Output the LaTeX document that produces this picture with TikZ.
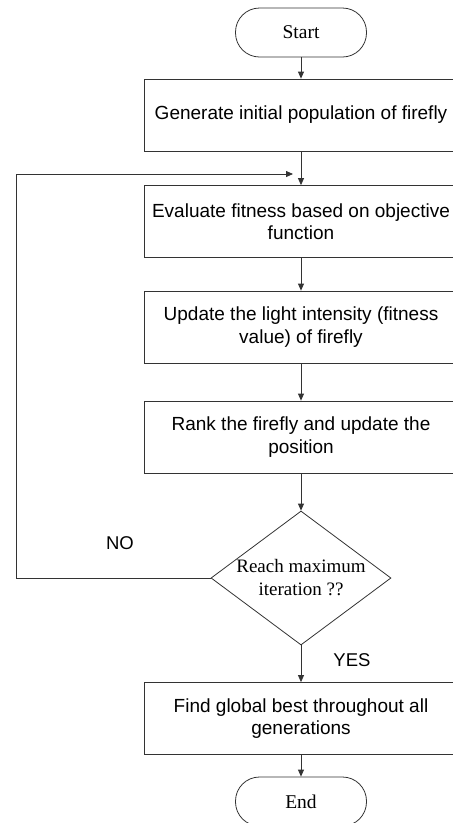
\documentclass[tikz,border=0pt]{standalone}
\usepackage{fontspec}
\setmainfont{Liberation Serif}
\newfontfamily\arialf{Liberation Sans}
\usetikzlibrary{shapes.geometric,arrows.meta}
\begin{document}
\begin{tikzpicture}[x=1pt,y=1pt,
  lin/.style={draw=black!80, line width=0.8pt},
  box/.style={lin, rectangle, minimum width=314pt, minimum height=72pt, inner sep=0pt,
    font=\arialf\fontsize{19}{22.5}\selectfont, align=center},
  term/.style={lin, rectangle, rounded corners=24pt, minimum width=131pt, minimum height=49pt,
    inner sep=0pt, font=\fontsize{19.5}{22}\selectfont},
  dia/.style={lin, diamond, minimum width=180pt, minimum height=134pt, shape aspect=1.343, inner sep=0pt},
  lbl/.style={font=\arialf\fontsize{18.5}{22}\selectfont, inner sep=0pt},
  arr/.style={lin, -{Triangle[length=7pt,width=6pt]}}]
\useasboundingbox (0,0) rectangle (453,-823);
\node[term] (start) at (301,-32.5) {Start};
\node[box] (b1) at (301,-115) {Generate initial population of firefly};
\node[box] (b2) at (301,-221.5) {Evaluate fitness based on objective\\function};
\node[box] (b3) at (301,-327) {Update the light intensity (fitness\\value) of firefly};
\node[box] (b4) at (301,-437) {Rank the firefly and update the\\position};
\node[dia] (dec) at (301,-578) {};
\node[font=\fontsize{19}{23}\selectfont, align=center, inner sep=0pt] (dectext) at (dec.center) {Reach maximum\\iteration ??};
\node[box] (b5) at (301,-718.5) {Find global best throughout all\\generations};
\node[term] (end) at (301,-801.5) {End};
\node[lbl] (no) at (120,-543) {NO};
\node[lbl] (yes) at (352,-660) {YES};
\coordinate (fbcorner) at (16,-578);
\coordinate (fbend) at (293,-174);
\draw[arr] (start) -- (b1);
\draw[arr] (b1) -- (b2);
\draw[arr] (b2) -- (b3);
\draw[arr] (b3) -- (b4);
\draw[arr] (b4) -- (dec);
\draw[arr] (dec) -- (b5);
\draw[arr] (b5) -- (end);
\draw[arr] (dec.west) -- (fbcorner) |- (fbend);
\end{tikzpicture}
\end{document}
